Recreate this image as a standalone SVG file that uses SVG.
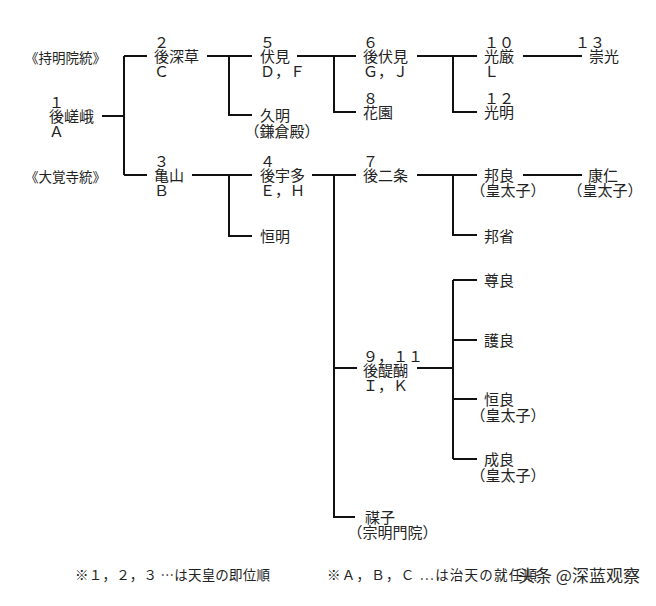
<svg xmlns="http://www.w3.org/2000/svg" width="656" height="606" viewBox="0 0 656 606">
<style>
text{font-family:"Noto Sans CJK JP","Noto Sans CJK SC",sans-serif;font-size:15px;fill:#222;}
.lab{font-size:13.5px;}
.fn{font-size:13.5px;}
.h{font-feature-settings:"halt";}
.wm{font-family:"Noto Sans CJK SC",sans-serif;font-size:17px;fill:#2a2a2a;}
#connectors path{fill:none;stroke:#111;stroke-width:2;}
</style>
<rect width="656" height="606" fill="#fff"/>
<g id="labels">
<text class="lab" x="25" y="63">《持明院統》</text>
<text class="lab" x="25" y="182">《大覚寺統》</text>
</g>
<g id="connectors">
<path d="M102 116H124M124 56V175M124 56H147M124 175H147"/>
<path d="M207 56H252M229 56V115H252"/>
<path d="M192 175H252M229 175V236H252"/>
<path d="M297 56H356M334 56V112H356"/>
<path d="M312 175H356M334 175V517H355M334 368H357"/>
<path d="M417 56H477M453 56V112H477"/>
<path d="M523 56H582"/>
<path d="M417 175H477M453 175V235H477"/>
<path d="M523 175H582"/>
<path d="M417 368H453M453 280V459M453 280H477M453 340H477M453 399H477M453 459H477"/>
</g>
<g id="n1"><text><tspan x="49" y="108">１</tspan><tspan x="49" y="122">後嵯峨</tspan><tspan x="49" y="137">Ａ</tspan></text></g>
<g id="n2"><text><tspan x="154" y="48">２</tspan><tspan x="154" y="62">後深草</tspan><tspan x="154" y="77">Ｃ</tspan></text></g>
<g id="n3"><text><tspan x="154" y="167">３</tspan><tspan x="154" y="181">亀山</tspan><tspan x="154" y="196">Ｂ</tspan></text></g>
<g id="n5"><text><tspan x="260" y="48">５</tspan><tspan x="260" y="62">伏見</tspan><tspan x="260" y="77">Ｄ，Ｆ</tspan></text></g>
<g id="hisaaki"><text><tspan x="260" y="121">久明</tspan><tspan class="h" x="252" y="137">（鎌倉殿）</tspan></text></g>
<g id="n4"><text><tspan x="260" y="167">４</tspan><tspan x="260" y="181">後宇多</tspan><tspan x="260" y="196">Ｅ，Ｈ</tspan></text></g>
<g id="hisaakira"><text x="260" y="242">恒明</text></g>
<g id="n6"><text><tspan x="363" y="48">６</tspan><tspan x="363" y="62">後伏見</tspan><tspan x="363" y="77">Ｇ，Ｊ</tspan></text></g>
<g id="n8"><text><tspan x="363" y="104">８</tspan><tspan x="363" y="118">花園</tspan></text></g>
<g id="n7"><text><tspan x="363" y="167">７</tspan><tspan x="363" y="181">後二条</tspan></text></g>
<g id="n9"><text><tspan x="363" y="362">９，１１</tspan><tspan x="363" y="376">後醍醐</tspan><tspan x="363" y="391">Ｉ，Ｋ</tspan></text></g>
<g id="yoshiko"><text><tspan x="365" y="523">禖子</tspan><tspan class="h" x="355" y="538">（宗明門院）</tspan></text></g>
<g id="n10"><text><tspan x="484" y="48">１０</tspan><tspan x="484" y="62">光厳</tspan><tspan x="484" y="77">Ｌ</tspan></text></g>
<g id="n12"><text><tspan x="484" y="104">１２</tspan><tspan x="484" y="118">光明</tspan></text></g>
<g id="n13"><text><tspan x="575" y="48">１３</tspan><tspan x="589" y="62">崇光</tspan></text></g>
<g id="kuniyoshi"><text><tspan x="484" y="181">邦良</tspan><tspan class="h" x="478" y="196">（皇太子）</tspan></text></g>
<g id="kazuhito"><text><tspan x="588" y="181">康仁</tspan><tspan class="h" x="575" y="196">（皇太子）</tspan></text></g>
<g id="kunimi"><text x="484" y="242">邦省</text></g>
<g id="takayoshi"><text x="484" y="286">尊良</text></g>
<g id="moriyoshi"><text x="484" y="346">護良</text></g>
<g id="tsuneyoshi"><text><tspan x="484" y="405">恒良</tspan><tspan class="h" x="478" y="421">（皇太子）</tspan></text></g>
<g id="nariyoshi"><text><tspan x="484" y="465">成良</tspan><tspan class="h" x="478" y="481">（皇太子）</tspan></text></g>
<g id="footnote">
<text class="fn" x="75" y="580" textLength="195" lengthAdjust="spacing">※１，２，３ …は天皇の即位順</text>
<text class="fn" x="327" y="580" textLength="210" lengthAdjust="spacing">※Ａ，Ｂ，Ｃ …は治天の就任順</text>
<text class="wm" x="518" y="582">头条 @深蓝观察</text>
</g>
</svg>
